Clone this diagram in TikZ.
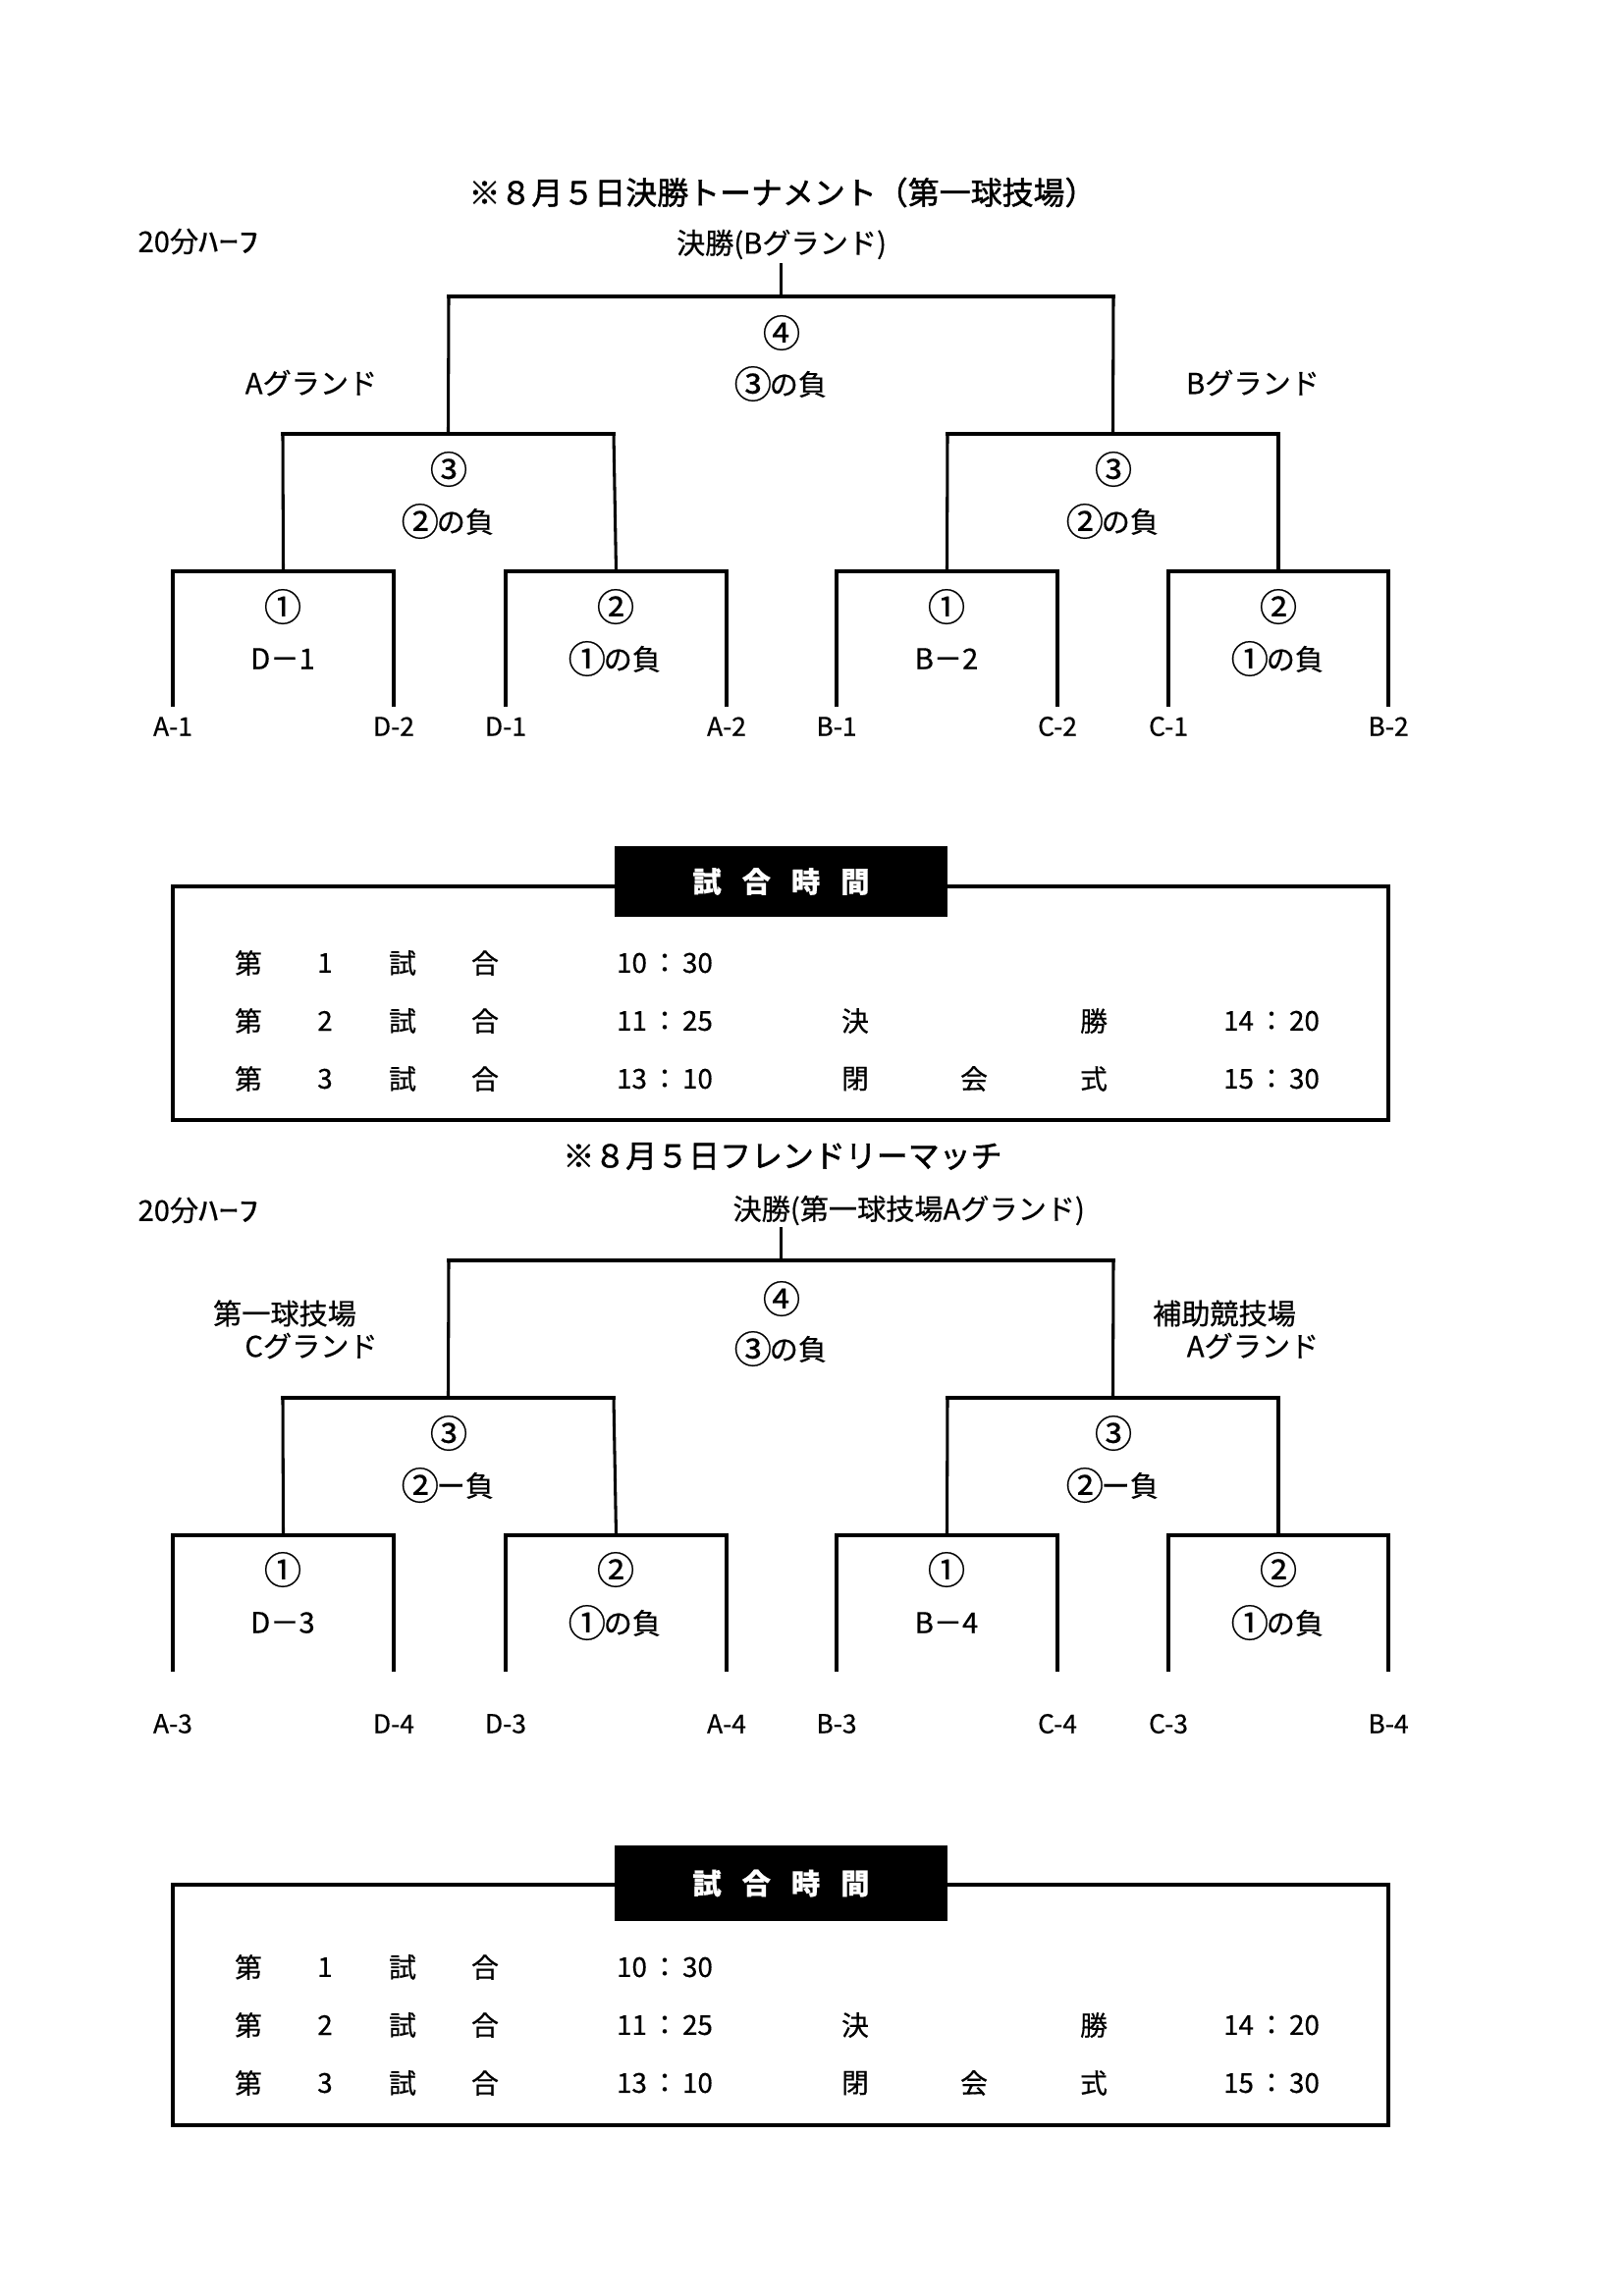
\documentclass[tikz,border=0pt]{standalone}
\usepackage{fontspec}
\setmainfont{Noto Sans CJK JP}[FakeBold=0.5]
\newfontfamily\ttlfont{Noto Sans CJK JP}[FakeBold=1.4]
\usetikzlibrary{calc}
\tikzset{
  hbar/.style={line width=1.45pt, line cap=rect},
  vbar/.style={line width=1.1pt},
  frm/.style={line width=1.45pt},
  ttl/.style={font=\ttlfont\fontsize{11.5}{13}\selectfont, inner sep=0pt},
  lbl/.style={font=\fontsize{10.5}{12}\selectfont, inner sep=0pt},
  leaf/.style={font=\fontsize{9.5}{11}\selectfont, inner sep=0pt},
  cell/.style={font=\fontsize{10}{12}\selectfont, inner sep=0pt},
  hdr/.style={fill=black, text=white, font=\fontsize{10.5}{12}\selectfont\bfseries,
    minimum width=122pt, inner sep=0pt},
}
\newcommand\cn[1]{\makebox[1.16em][c]{\raisebox{-0.11em}{\scalebox{1.32}{#1}}}}
\newcommand\halfhour{20分\scalebox{1.4}[1]{ﾊｰﾌ}}
\newcommand\tm[2]{#1\hspace{1.5pt}：\hspace{1.5pt}#2}
\newcommand\matchbar[4]{% name, x-left, x-right, y
  \coordinate (#1L) at (#2,#4);
  \coordinate (#1R) at (#3,#4);
  \coordinate (#1) at ($(#1L)!0.5!(#1R)$);
  \draw[hbar] (#1L) -- (#1R);}
\newcommand\schedtable[5]{% prefix, frame top y, frame bottom y, header height, header y
  \draw[frm] (176,#2) rectangle (1414,#3);
  \node[hdr, minimum height=#4] (#1hdr) at (795.5,#5) {試\hspace{7.6pt}合\hspace{7.6pt}時\hspace{7.6pt}間};
}
\newcommand\schedrows[4]{% prefix, y1, y2, y3
  \node[cell] (#1a1) at (253,#2) {第};
  \node[cell] (#1a2) at (331,#2) {1};
  \node[cell] (#1a3) at (410,#2) {試};
  \node[cell] (#1a4) at (494,#2) {合};
  \node[cell] (#1a5) at (677,#2) {\tm{10}{30}};
  \node[cell] (#1b1) at (253,#3) {第};
  \node[cell] (#1b2) at (331,#3) {2};
  \node[cell] (#1b3) at (410,#3) {試};
  \node[cell] (#1b4) at (494,#3) {合};
  \node[cell] (#1b5) at (677,#3) {\tm{11}{25}};
  \node[cell] (#1b6) at (871,#3) {決};
  \node[cell] (#1b7) at (1114,#3) {勝};
  \node[cell] (#1b8) at (1295,#3) {\tm{14}{20}};
  \node[cell] (#1c1) at (253,#4) {第};
  \node[cell] (#1c2) at (331,#4) {3};
  \node[cell] (#1c3) at (410,#4) {試};
  \node[cell] (#1c4) at (494,#4) {合};
  \node[cell] (#1c5) at (677,#4) {\tm{13}{10}};
  \node[cell] (#1c6) at (871,#4) {閉};
  \node[cell] (#1c7) at (992,#4) {会};
  \node[cell] (#1c8) at (1114,#4) {式};
  \node[cell] (#1c9) at (1295,#4) {\tm{15}{30}};
}
\begin{document}
\begin{tikzpicture}[x=0.36pt, y=-0.36pt]
\fill[white] (0,0) rectangle (1653,2339);
\useasboundingbox (0,0) rectangle (1653,2339);

%% ================= Bracket 1 =================
\node[ttl] (title1) at (797,196) {※８月５日決勝トーナメント（第一球技場）};
\node[lbl, anchor=west] (half1) at (140,246) {\halfhour};
\node[lbl] (fin1) at (796,249) {決勝(Bグランド)};
\coordinate (fin1end) at (795.5,268);
\node[lbl] (g1a) at (317,390) {Aグランド};
\node[lbl] (g1b) at (1276,390) {Bグランド};

\matchbar{fA}{457}{1134}{302}
\matchbar{sA1}{288}{625}{442}
\matchbar{sA2}{965}{1302}{442}
\matchbar{tA1}{176}{401}{582}
\matchbar{tA2}{515}{740}{582}
\matchbar{tA3}{852}{1077}{582}
\matchbar{tA4}{1190}{1414}{582}
\draw[vbar] (fin1end) -- (fA);
\draw[vbar] (fAL) -- (sA1);
\draw[vbar] (fAR) -- (sA2);
\draw[vbar] (sA1L) -- (tA1);
\draw[vbar] (sA1R) -- (tA2);
\draw[vbar] (sA2L) -- (tA3);
\draw[vbar] (sA2R) -- (tA4);
\foreach \i/\x/\t in {1/176/A-1, 2/401/D-2, 3/515/D-1, 4/740/A-2, 5/852/B-1, 6/1077/C-2, 7/1190/C-1, 8/1414/B-2}{
  \coordinate (eA\i) at (\x,720);
  \node[leaf] (nA\i) at (\x,740) {\t};
}
\draw[vbar] (tA1L) -- (eA1);
\draw[vbar] (tA1R) -- (eA2);
\draw[vbar] (tA2L) -- (eA3);
\draw[vbar] (tA2R) -- (eA4);
\draw[vbar] (tA3L) -- (eA5);
\draw[vbar] (tA3R) -- (eA6);
\draw[vbar] (tA4L) -- (eA7);
\draw[vbar] (tA4R) -- (eA8);

\node[lbl] (m4a) at (796,339) {\cn{④}};
\node[lbl] (m4b) at (796,391) {\cn{③}の負};
\node[lbl] (m3la) at (457,478) {\cn{③}};
\node[lbl] (m3lb) at (457,531) {\cn{②}の負};
\node[lbl] (m3ra) at (1134,478) {\cn{③}};
\node[lbl] (m3rb) at (1134,531) {\cn{②}の負};
\node[lbl] (m1aa) at (288,618) {\cn{①}};
\node[lbl] (m1ab) at (288,671) {D－1};
\node[lbl] (m2aa) at (627,618) {\cn{②}};
\node[lbl] (m2ab) at (627,671) {\cn{①}の負};
\node[lbl] (m1ba) at (964,618) {\cn{①}};
\node[lbl] (m1bb) at (964,671) {B－2};
\node[lbl] (m2ba) at (1302,618) {\cn{②}};
\node[lbl] (m2bb) at (1302,671) {\cn{①}の負};

%% ================= Table 1 =================
\schedtable{T1}{903}{1141}{25.9pt}{898}
\schedrows{T1}{981}{1040}{1099}

%% ================= Bracket 2 =================
\node[ttl] (title2) at (797,1178) {※８月５日フレンドリーマッチ};
\node[lbl, anchor=west] (half2) at (140,1233) {\halfhour};
\node[lbl, anchor=west] (fin2) at (746,1233) {決勝(第一球技場Aグランド)};
\coordinate (fin2end) at (795.5,1250);
\node[lbl] (g2a1) at (290,1338) {第一球技場};
\node[lbl] (g2a2) at (317,1371) {Cグランド};
\node[lbl] (g2b1) at (1247,1338) {補助競技場};
\node[lbl] (g2b2) at (1276,1371) {Aグランド};

\matchbar{fB}{457}{1134}{1284}
\matchbar{sB1}{288}{625}{1424}
\matchbar{sB2}{965}{1302}{1424}
\matchbar{tB1}{176}{401}{1564}
\matchbar{tB2}{515}{740}{1564}
\matchbar{tB3}{852}{1077}{1564}
\matchbar{tB4}{1190}{1414}{1564}
\draw[vbar] (fin2end) -- (fB);
\draw[vbar] (fBL) -- (sB1);
\draw[vbar] (fBR) -- (sB2);
\draw[vbar] (sB1L) -- (tB1);
\draw[vbar] (sB1R) -- (tB2);
\draw[vbar] (sB2L) -- (tB3);
\draw[vbar] (sB2R) -- (tB4);
\foreach \i/\x/\t in {1/176/A-3, 2/401/D-4, 3/515/D-3, 4/740/A-4, 5/852/B-3, 6/1077/C-4, 7/1190/C-3, 8/1414/B-4}{
  \coordinate (eB\i) at (\x,1703);
  \node[leaf] (nB\i) at (\x,1756) {\t};
}
\draw[vbar] (tB1L) -- (eB1);
\draw[vbar] (tB1R) -- (eB2);
\draw[vbar] (tB2L) -- (eB3);
\draw[vbar] (tB2R) -- (eB4);
\draw[vbar] (tB3L) -- (eB5);
\draw[vbar] (tB3R) -- (eB6);
\draw[vbar] (tB4L) -- (eB7);
\draw[vbar] (tB4R) -- (eB8);

\node[lbl] (n4a) at (796,1323) {\cn{④}};
\node[lbl] (n4b) at (796,1374) {\cn{③}の負};
\node[lbl] (n3la) at (457,1460) {\cn{③}};
\node[lbl] (n3lb) at (457,1513) {\cn{②}ー負};
\node[lbl] (n3ra) at (1134,1460) {\cn{③}};
\node[lbl] (n3rb) at (1134,1513) {\cn{②}ー負};
\node[lbl] (n1aa) at (288,1599) {\cn{①}};
\node[lbl] (n1ab) at (288,1653) {D－3};
\node[lbl] (n2aa) at (627,1599) {\cn{②}};
\node[lbl] (n2ab) at (627,1653) {\cn{①}の負};
\node[lbl] (n1ba) at (964,1599) {\cn{①}};
\node[lbl] (n1bb) at (964,1653) {B－4};
\node[lbl] (n2ba) at (1302,1599) {\cn{②}};
\node[lbl] (n2bb) at (1302,1653) {\cn{①}の負};

%% ================= Table 2 =================
\schedtable{T2}{1920}{2165}{27.7pt}{1918.5}
\schedrows{T2}{2004}{2063}{2122}
\end{tikzpicture}
\end{document}
